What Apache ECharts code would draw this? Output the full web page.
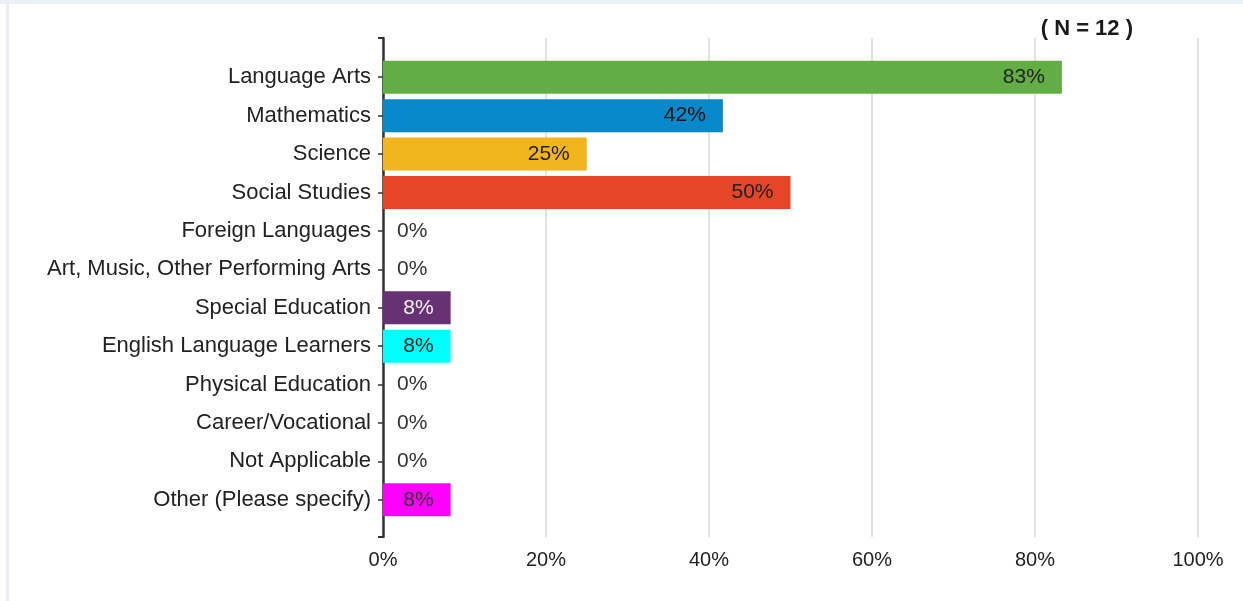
<!DOCTYPE html>
<html>
<head>
<meta charset="utf-8">
<script src="https://cdn.jsdelivr.net/npm/echarts@6/dist/echarts.min.js"></script>
<style>
html,body{margin:0;padding:0;background:#fff;}
#chart{width:1243px;height:601px;}
</style>
</head>
<body>
<div id="chart"></div>
<script>
const categories = ["Language Arts","Mathematics","Science","Social Studies","Foreign Languages","Art, Music, Other Performing Arts","Special Education","English Language Learners","Physical Education","Career/Vocational","Not Applicable","Other (Please specify)"];
const values = [83.3, 41.7, 25, 50, 0, 0, 8.3, 8.3, 0, 0, 0, 8.3];
const barColors = ["#63AD47","#0788CB","#F3B51D","#E64527","#999999","#999999","#663274","#00FFFF","#999999","#999999","#999999","#FF00FF"];
const labelColors = ["#222","#111","#222","#222","#333","#333","#f4f4f4","#222","#333","#333","#333","#333"];
const xTicks = [0, 20, 40, 60, 80, 100];
const titleText = "( N = 12 )";

const FONT = "Arial, 'Liberation Sans', sans-serif";

const seriesData = values.map((v, i) => ({
  value: v,
  itemStyle: { color: barColors[i] },
  label: v === 0
    ? { position: 'right', distance: 14, color: labelColors[i] }
    : { position: 'insideRight', distance: 17, color: labelColors[i] }
}));

const chart = echarts.init(document.getElementById('chart'), null, { renderer: 'canvas' });
chart.setOption({
  animation: false,
  backgroundColor: '#ffffff',
  textStyle: { fontFamily: FONT },
  title: {
    text: titleText,
    right: 110, top: 18, padding: 0,
    textStyle: { fontFamily: FONT, fontSize: 22, fontWeight: 'bold', color: '#1a1a1a' }
  },
  graphic: [
    { type: 'rect', silent: true, z: -10, shape: { x: 0, y: 0, width: 1243, height: 4 }, style: { fill: '#EDEFF6' } },
    { type: 'rect', silent: true, z: -10, shape: { x: 6, y: 4, width: 3, height: 597 }, style: { fill: '#EAECF4' } }
  ],
  grid: [
    { left: 383, right: 45, top: 58, bottom: 82, containLabel: false },
    { left: 383, right: 45, top: 38, bottom: 64, containLabel: false }
  ],
  xAxis: [
    { gridIndex: 0, type: 'value', min: 0, max: 100, show: false },
    {
      gridIndex: 1, type: 'value', min: 0, max: 100, interval: 20,
      axisLine: { show: false }, axisTick: { show: false },
      axisLabel: { formatter: '{value}%', fontSize: 20, color: '#222', margin: 13, fontFamily: FONT, customValues: xTicks },
      splitLine: { show: true, lineStyle: { color: '#D9D9D9', width: 1.5 } }
    }
  ],
  yAxis: [
    {
      gridIndex: 0, type: 'category', data: categories, inverse: true,
      axisLine: { show: false },
      axisTick: { show: true, alignWithLabel: true, length: 5, lineStyle: { color: '#333', width: 1.5 } },
      axisLabel: { fontSize: 22, color: '#222', margin: 12, fontFamily: FONT },
      splitLine: { show: false }
    },
    {
      gridIndex: 1, type: 'value', min: 0, max: 1, interval: 1,
      axisLine: { show: true, lineStyle: { color: '#333', width: 2.5 } },
      axisTick: { show: true, length: 5, lineStyle: { color: '#333', width: 2 } },
      axisLabel: { show: false },
      splitLine: { show: false }
    }
  ],
  series: [{
    type: 'bar',
    xAxisIndex: 0, yAxisIndex: 0,
    data: seriesData,
    barWidth: 33,
    label: {
      show: true,
      fontSize: 21,
      fontFamily: FONT,
      formatter: p => Math.round(p.value) + '%'
    }
  }]
});
</script>
</body>
</html>
